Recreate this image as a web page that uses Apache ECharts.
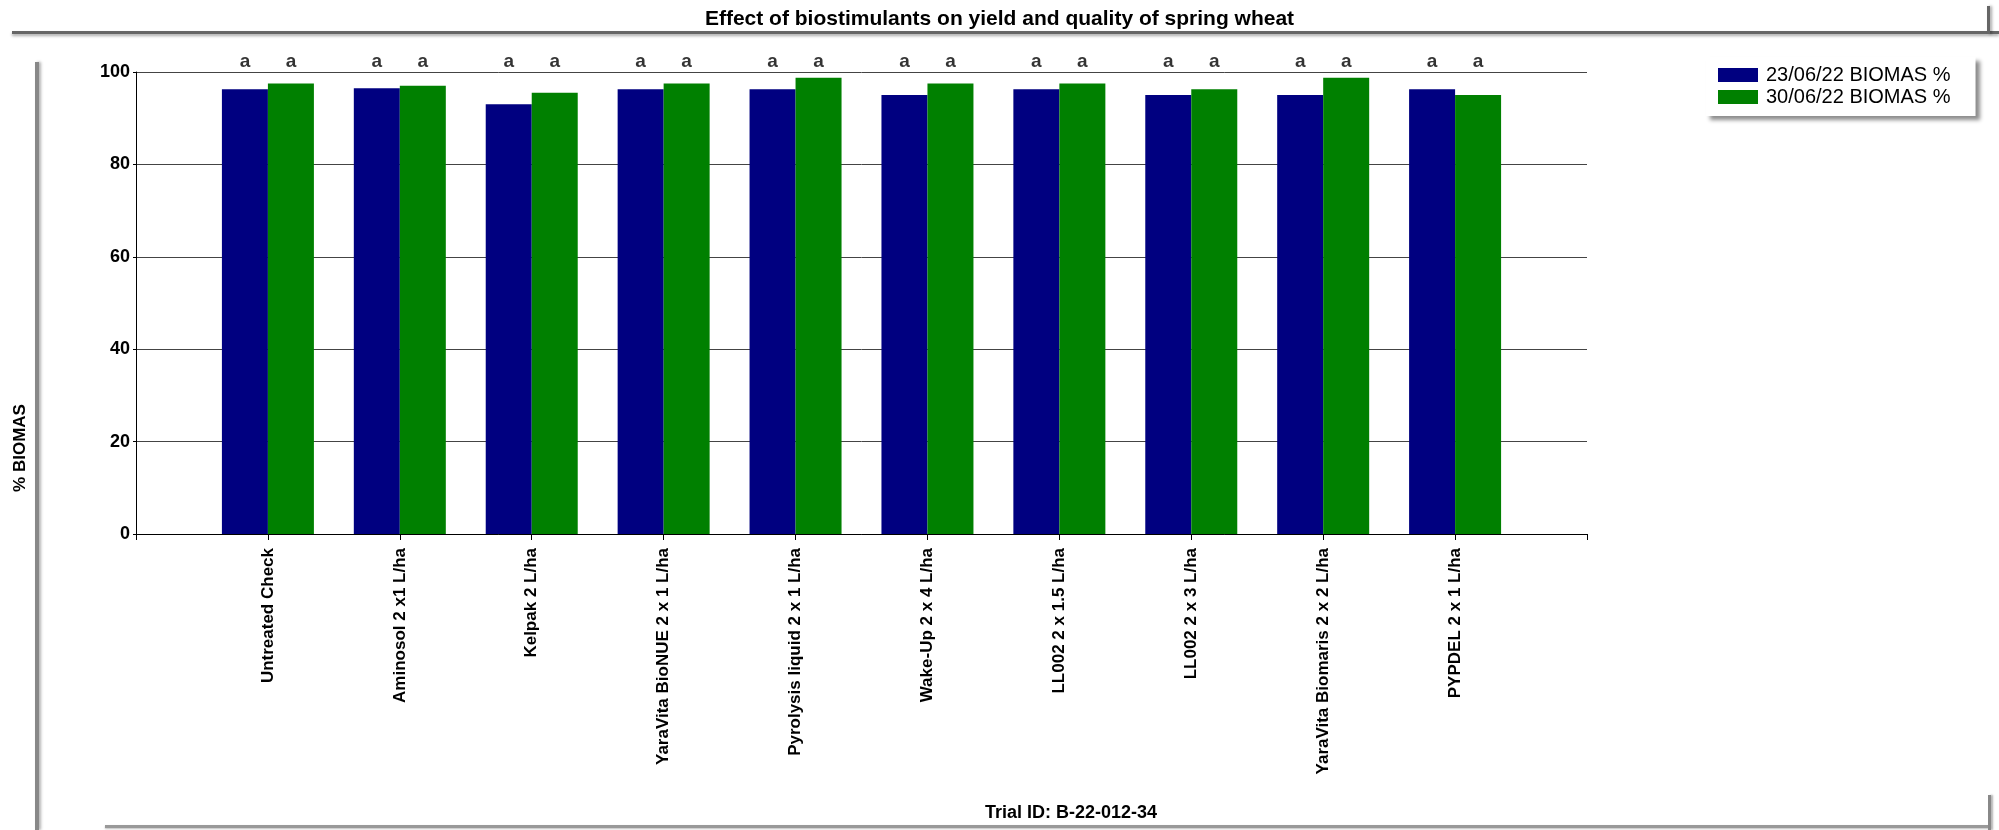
<!DOCTYPE html>
<html><head><meta charset="utf-8">
<script src="https://cdn.jsdelivr.net/npm/echarts@6/dist/echarts.min.js"></script>
<style>html,body{margin:0;padding:0;background:#fff}#c{width:1999px;height:830px}</style>
</head><body><div id="c"></div>
<script>
const chartTitle = 'Effect of biostimulants on yield and quality of spring wheat';
const categories = ['Untreated Check','Aminosol 2 x1 L/ha','Kelpak 2 L/ha','YaraVita BioNUE 2 x 1 L/ha','Pyrolysis liquid 2 x 1 L/ha','Wake-Up 2 x 4 L/ha','LL002 2 x 1.5 L/ha','LL002 2 x 3 L/ha','YaraVita Biomaris 2 x 2 L/ha','PYPDEL 2 x 1 L/ha'];
const seriesNames = ['23/06/22 BIOMAS %','30/06/22 BIOMAS %'];
const biomas2306 = [96.25, 96.5, 93.0, 96.25, 96.25, 95.0, 96.25, 95.0, 95.0, 96.25];
const biomas3006 = [97.5, 97.0, 95.5, 97.5, 98.75, 97.5, 97.5, 96.25, 98.75, 95.0];
const letters2306 = ['a','a','a','a','a','a','a','a','a','a'];
const letters3006 = ['a','a','a','a','a','a','a','a','a','a'];
const yMin = 0, yMax = 100, yInterval = 20;
const yAxisTitle = '% BIOMAS';
const footerText = 'Trial ID: B-22-012-34';

const FONT = 'Liberation Sans, Arial, sans-serif';
const axisCats = [''].concat(categories, ['']);
const padData = arr => ['-'].concat(arr, ['-']);
const letterData = arr => arr.map((t, i) => ({ value: [i + 1, yMax], letter: t }));

const chart = echarts.init(document.getElementById('c'), null, { renderer: 'canvas' });
const letterSeries = (name, arr, dx) => ({
  name: name, type: 'scatter', data: letterData(arr), symbolSize: 1,
  itemStyle: { color: 'rgba(0,0,0,0)' }, silent: true, z: 5,
  label: { show: true, position: 'top', distance: 0, offset: [dx, 0],
    formatter: p => p.data.letter, color: '#000', fontWeight: 'bold', fontSize: 19, fontFamily: FONT }
});
chart.setOption({
  animation: false,
  backgroundColor: '#fff',
  title: { text: chartTitle, left: 'center', top: 4,
    textStyle: { fontSize: 21, fontWeight: 'bold', fontFamily: FONT, color: '#000' } },
  legend: {
    data: seriesNames, orient: 'vertical', left: 1706, top: 57,
    itemWidth: 40, itemHeight: 14, itemGap: 2, icon: 'rect',
    padding: [8, 25, 9, 12], backgroundColor: '#fff',
    shadowColor: 'rgba(0,0,0,0.45)', shadowBlur: 4, shadowOffsetX: 4, shadowOffsetY: 4,
    textStyle: { fontSize: 20, fontFamily: FONT, color: '#000', padding: [0, 0, 0, 3] }
  },
  grid: { left: 136, right: 412, top: 72, bottom: 296, containLabel: false },
  xAxis: {
    type: 'category', data: axisCats, boundaryGap: false,
    axisLine: { show: true, lineStyle: { color: '#000', width: 1 } },
    axisTick: { show: true, length: 6, interval: 0, lineStyle: { color: '#000' } },
    axisLabel: { interval: 0, rotate: 90, margin: 14, color: '#000', fontWeight: 'bold', fontSize: 17, fontFamily: FONT },
    splitLine: { show: false }
  },
  yAxis: {
    type: 'value', min: yMin, max: yMax, interval: yInterval,
    axisLine: { show: true, lineStyle: { color: '#000', width: 1 } },
    axisTick: { show: true, length: 3, lineStyle: { color: '#000' } },
    axisLabel: { margin: 6, color: '#000', fontWeight: 'bold', fontSize: 18, fontFamily: FONT },
    splitLine: { show: true, lineStyle: { color: '#444', width: 1 } }
  },
  series: [
    { name: seriesNames[0], type: 'bar', data: padData(biomas2306), barWidth: 46, barGap: '0%',
      itemStyle: { color: '#000080' } },
    { name: seriesNames[1], type: 'bar', data: padData(biomas3006), barWidth: 46, barGap: '0%',
      itemStyle: { color: '#008000' } },
    letterSeries('l1', letters2306, -23),
    letterSeries('l2', letters3006, 23)
  ],
  graphic: [
    { type: 'rect', shape: { x: 12, y: 31, width: 1987, height: 3 }, style: { fill: '#666', shadowBlur: 3, shadowColor: 'rgba(0,0,0,0.35)', shadowOffsetY: 2 }, z: -1 },
    { type: 'rect', shape: { x: 1987, y: 6, width: 3, height: 28 }, style: { fill: '#666', shadowBlur: 3, shadowColor: 'rgba(0,0,0,0.35)', shadowOffsetX: 2 }, z: -1 },
    { type: 'rect', shape: { x: 35, y: 62, width: 4, height: 768 }, style: { fill: '#888', shadowBlur: 3, shadowColor: 'rgba(0,0,0,0.3)', shadowOffsetX: 2 }, z: -1 },
    { type: 'rect', shape: { x: 105, y: 825, width: 1885, height: 3 }, style: { fill: '#999', shadowBlur: 2, shadowColor: 'rgba(0,0,0,0.25)', shadowOffsetY: 1 }, z: -1 },
    { type: 'rect', shape: { x: 1988, y: 795, width: 3, height: 35 }, style: { fill: '#888', shadowBlur: 2, shadowColor: 'rgba(0,0,0,0.3)', shadowOffsetX: 2 }, z: -1 },
    { type: 'text', x: 20, y: 448, rotation: Math.PI / 2,
      style: { text: yAxisTitle, fill: '#000', font: 'bold 17px Liberation Sans, Arial, sans-serif', textAlign: 'center', textVerticalAlign: 'middle' } },
    { type: 'text', x: 1071, y: 813,
      style: { text: footerText, fill: '#000', font: 'bold 18px Liberation Sans, Arial, sans-serif', textAlign: 'center', textVerticalAlign: 'middle' } }
  ]
});
</script></body></html>
